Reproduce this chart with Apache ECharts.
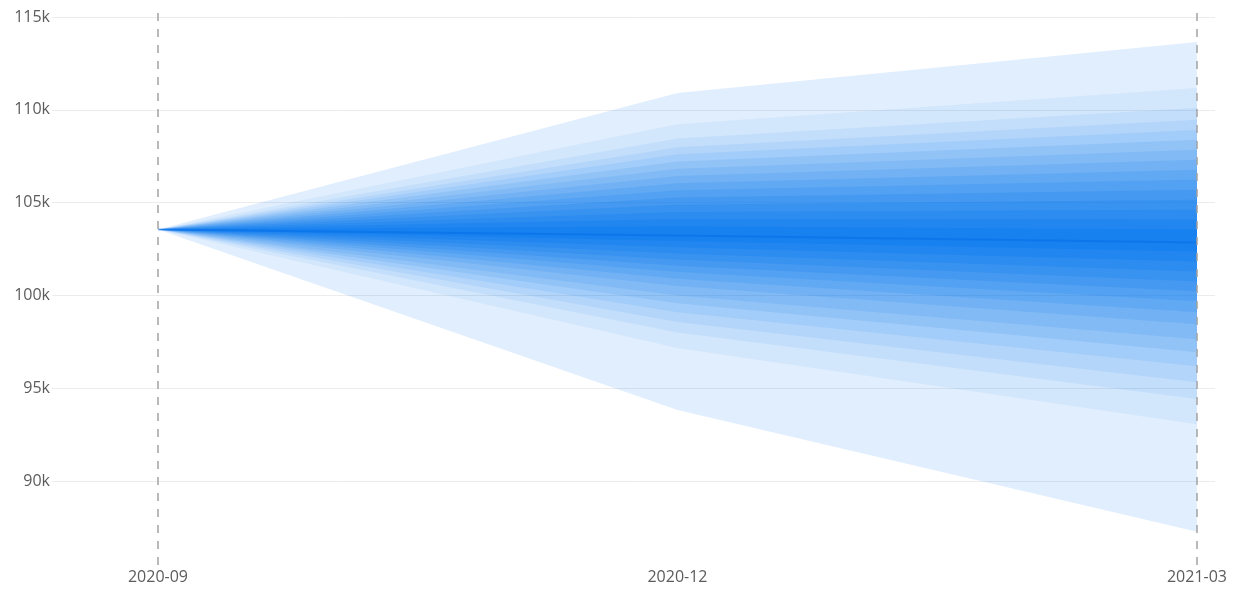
<!DOCTYPE html>
<html>
<head>
<meta charset="utf-8">
<title>Forecast fan chart</title>
<script src="https://cdn.jsdelivr.net/npm/echarts@6/dist/echarts.min.js"></script>
<style>
  html, body { margin: 0; padding: 0; background: #ffffff; }
  #chart { width: 1239px; height: 592px; }
</style>
</head>
<body>
<div id="chart"></div>
<script>
// Period labels and their offsets in months from the forecast origin
const tickLabels = ['2020-09', '2020-12', '2021-03'];
const monthOffset = [0, 3, 6];

// Central path of the forecast
const median = [103550, 103230, 102850];

// Upper edge of each band, outermost first (values at 2020-09, 2020-12, 2021-03)
const upper = [
  [103550, 110910, 113660],
  [103550, 109230, 111180],
  [103550, 108460, 110110],
  [103550, 107990, 109460],
  [103550, 107600, 108920],
  [103550, 107220, 108390],
  [103550, 106830, 107850],
  [103550, 106440, 107310],
  [103550, 106050, 106770],
  [103550, 105670, 106240],
  [103550, 105280, 105700],
  [103550, 104890, 105160],
  [103550, 104500, 104620],
  [103550, 104120, 104090],
  [103550, 103730, 103550]
];

// Lower edge of each band, outermost first
const lower = [
  [103550, 93830, 87260],
  [103550, 97160, 93060],
  [103550, 98000, 94410],
  [103550, 98560, 95320],
  [103550, 99090, 96180],
  [103550, 99570, 96940],
  [103550, 99990, 97630],
  [103550, 100500, 98440],
  [103550, 100900, 99090],
  [103550, 101260, 99680],
  [103550, 101600, 100220],
  [103550, 101930, 100750],
  [103550, 102260, 101290],
  [103550, 102600, 101830],
  [103550, 102930, 102370]
];

// Y-axis gridline values
const yTicks = [90000, 95000, 100000, 105000, 110000, 115000];

// Opacity of each band layer; layers overlap so the centre gets darkest
const bandAlpha = [0.12, 0.06, 0.07, 0.08, 0.09, 0.10, 0.11, 0.12, 0.13, 0.15, 0.17, 0.19, 0.21, 0.24, 0.28];

// One polygon per band: along the upper edge, then back along the lower edge
function renderBand(params, api) {
  const k = api.value(0);
  const pts = [];
  for (let i = 0; i < monthOffset.length; i++) {
    pts.push(api.coord([monthOffset[i], upper[k][i]]));
  }
  for (let i = monthOffset.length - 1; i >= 0; i--) {
    pts.push(api.coord([monthOffset[i], lower[k][i]]));
  }
  return {
    type: 'polygon',
    shape: { points: pts },
    style: { fill: 'rgba(0,118,240,' + bandAlpha[k] + ')', stroke: null },
    silent: true
  };
}

const bandRows = upper.map(function (_, k) { return [k, median[0]]; });

const labelFont = { color: '#5c5c5c', fontFamily: 'Open Sans', fontSize: 16 };

const chart = echarts.init(document.getElementById('chart'), null, { renderer: 'canvas' });
chart.setOption({
  animation: false,
  backgroundColor: '#ffffff',
  grid: { left: 52, right: 24, top: 5, bottom: 27, containLabel: false },
  xAxis: {
    type: 'value',
    min: -0.612,
    max: 6.104,
    axisLine: { show: false },
    axisTick: { show: false, customValues: monthOffset },
    splitLine: { show: false },
    axisLabel: Object.assign({
      customValues: monthOffset,
      margin: 4,
      formatter: function (v) { return tickLabels[monthOffset.indexOf(Math.round(v))] || ''; }
    }, labelFont)
  },
  yAxis: {
    type: 'value',
    min: 85470,
    max: 115650,
    axisLine: { show: false },
    axisTick: { show: false, customValues: yTicks },
    splitLine: { show: true, lineStyle: { color: '#ececec', width: 1 } },
    axisLabel: Object.assign({
      customValues: yTicks,
      margin: 2,
      formatter: function (v) { return Math.round(v / 1000) + 'k'; }
    }, labelFont)
  },
  series: [
    {
      type: 'custom',
      renderItem: renderBand,
      data: bandRows,
      encode: { x: 0, y: 1 },
      clip: false,
      silent: true,
      z: 2
    },
    {
      type: 'line',
      symbol: 'none',
      silent: true,
      lineStyle: { color: 'rgba(0,105,230,0.45)', width: 2 },
      data: monthOffset.map(function (m, i) { return [m, median[i]]; }),
      z: 3,
      markLine: {
        silent: true,
        symbol: 'none',
        label: { show: false },
        lineStyle: { color: '#a3a3a3', type: [8, 8], width: 1.5 },
        data: [{ xAxis: monthOffset[0] }, { xAxis: monthOffset[monthOffset.length - 1] }]
      }
    }
  ]
});
</script>
</body>
</html>
